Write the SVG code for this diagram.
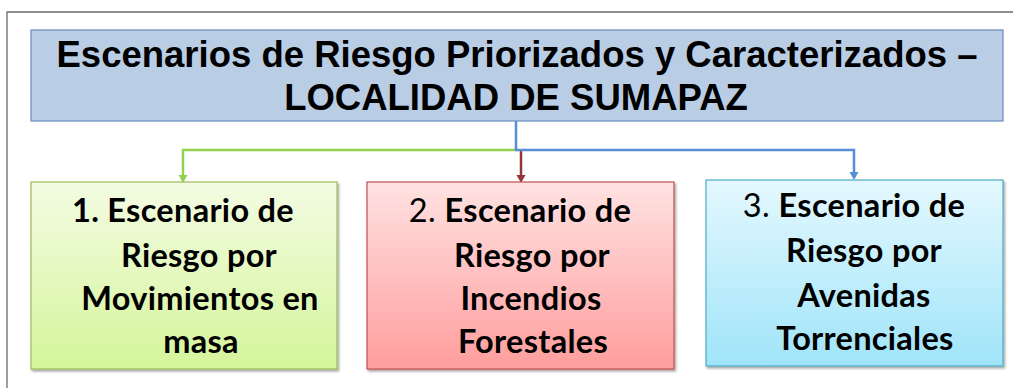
<svg xmlns="http://www.w3.org/2000/svg" width="1013" height="388" viewBox="0 0 1013 388">
<defs>
<linearGradient id="gGreen" x1="0" y1="0" x2="0" y2="1"><stop offset="0" stop-color="#f3fce3"/><stop offset="1" stop-color="#d5f59a"/></linearGradient>
<linearGradient id="gRed" x1="0" y1="0" x2="0" y2="1"><stop offset="0" stop-color="#ffe2e2"/><stop offset="1" stop-color="#ff9d9d"/></linearGradient>
<linearGradient id="gBlue" x1="0" y1="0" x2="0" y2="1"><stop offset="0" stop-color="#e4f8fe"/><stop offset="1" stop-color="#a0e4f9"/></linearGradient>
<filter id="sh" x="-5%" y="-5%" width="112%" height="115%"><feDropShadow dx="1.5" dy="2" stdDeviation="1.2" flood-color="#000" flood-opacity="0.35"/></filter>
</defs>
<style>
.title{font-family:"Liberation Sans",Arial,sans-serif;font-weight:bold;font-size:36.5px;fill:#000;text-anchor:middle}
.bt{font-family:Lato,"Open Sans",sans-serif;font-weight:bold;font-size:32.5px;letter-spacing:0.3px;fill:#000;text-anchor:middle}
.reg{font-weight:normal}
.conn{fill:none;stroke-width:2.5}
</style>
<path d="M7,388 V12 H1013" fill="none" stroke="#6b6b6b" stroke-width="1.3"/>
<g id="title">
<rect x="31" y="30" width="972" height="91" fill="#b9cde5" stroke="#7094c2" stroke-width="1.3"/>
<text class="title" x="517" y="67">Escenarios de Riesgo Priorizados y Caracterizados –</text>
<text class="title" x="516" y="110">LOCALIDAD DE SUMAPAZ</text>
</g>
<g id="connectors">
<path class="conn" d="M516,150 H183 V176" stroke="#92d050"/>
<path d="M178.5,175 H187.5 L183,183 Z" fill="#92d050"/>
<path class="conn" d="M521,150 V176" stroke="#953735"/>
<path d="M516.5,175 H525.5 L521,183 Z" fill="#953735"/>
<path class="conn" d="M516,121 V150 H854 V173" stroke="#558ed5"/>
<path d="M849.5,172 H858.5 L854,180 Z" fill="#558ed5"/>
</g>
<g id="node1">
<rect x="31" y="182" width="306" height="187" fill="url(#gGreen)" stroke="#9bbb59" stroke-width="1.2" filter="url(#sh)"/>
<text class="bt" x="183" y="222">1. Escenario de</text>
<text class="bt" x="199" y="267">Riesgo por</text>
<text class="bt" x="200" y="310">Movimientos en</text>
<text class="bt" x="201" y="353">masa</text>
</g>
<g id="node2">
<rect x="367" y="182" width="307" height="187" fill="url(#gRed)" stroke="#c0504d" stroke-width="1.2" filter="url(#sh)"/>
<text class="bt" x="520" y="222"><tspan class="reg">2. </tspan>Escenario de</text>
<text class="bt" x="532" y="267">Riesgo por</text>
<text class="bt" x="531" y="310">Incendios</text>
<text class="bt" x="533" y="353">Forestales</text>
</g>
<g id="node3">
<rect x="706" y="180" width="297" height="186" fill="url(#gBlue)" stroke="#4bacc6" stroke-width="1.2" filter="url(#sh)"/>
<text class="bt" x="854" y="217"><tspan class="reg">3. </tspan>Escenario de</text>
<text class="bt" x="864" y="262">Riesgo por</text>
<text class="bt" x="864" y="307">Avenidas</text>
<text class="bt" x="865" y="350">Torrenciales</text>
</g>
</svg>
